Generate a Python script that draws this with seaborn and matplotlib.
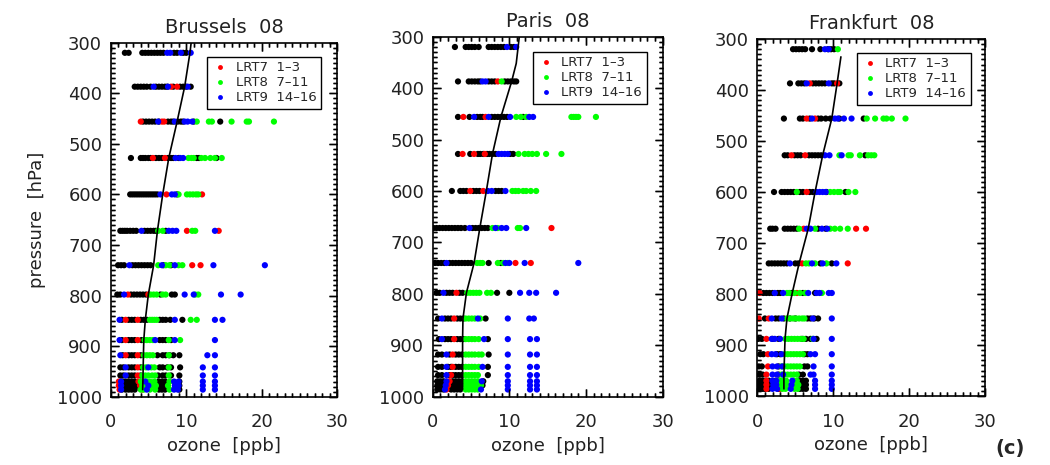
import numpy as np
import pandas as pd
import matplotlib
matplotlib.use("Agg")
import matplotlib.pyplot as plt
from matplotlib.lines import Line2D
from matplotlib.ticker import MultipleLocator
import seaborn as sns

# pressure levels of the soundings [hPa]
levels = [320, 387, 456, 528, 600, 672, 740, 798, 848, 888, 918, 942, 958, 970, 978, 986]

# ozone [ppb] per level
bru_black = [[1.9, 2.4, 4.2, 4.6, 5.0, 5.4, 5.8, 6.2, 6.6, 7.0, 8.4, 8.8, 9.6, 10.0],
             [3.2, 3.6, 4.0, 4.4, 4.8, 5.3, 6.0, 6.4, 6.8, 7.2, 7.5, 8.3, 9.2, 9.6, 10.0, 10.6],
             [4.3, 4.7, 5.1, 5.5, 5.9, 6.4, 7.6, 8.0, 8.3, 8.9, 9.3, 9.6, 11.0, 14.5],
             [2.7, 4.0, 4.3, 4.6, 5.0, 5.3, 6.0, 6.4, 6.8, 7.6, 8.0, 8.3, 9.0, 11.4, 11.7, 14.0],
             [2.6, 2.9, 3.2, 3.5, 3.8, 4.1, 4.4, 4.7, 5.0, 5.3, 5.6, 5.9, 6.2, 8.8],
             [1.3, 1.6, 1.9, 2.2, 2.6, 3.0, 3.4, 4.5, 4.9, 5.3, 5.7, 6.0, 7.3],
             [1.0, 1.4, 1.8, 2.9, 3.3, 3.7, 4.1, 4.5, 4.9, 5.3, 7.0, 8.0],
             [0.9, 1.3, 2.7, 3.1, 3.5, 3.9, 4.3, 4.7, 6.6, 8.1, 8.5],
             [1.5, 2.4, 2.8, 3.2, 4.0, 4.4, 4.8, 6.5, 6.9, 7.3, 7.9, 9.5],
             [1.5, 2.4, 2.8, 3.2, 4.1, 6.5, 6.9, 7.3, 8.0],
             [1.6, 2.4, 2.8, 3.2, 4.0, 6.2, 6.9, 7.3, 7.8, 8.3, 9.1],
             [1.3, 1.7, 2.4, 2.8, 3.2, 4.0, 6.5, 6.9, 7.5, 8.0, 9.2],
             [1.3, 1.7, 2.4, 2.8, 3.2, 4.0, 6.3, 6.9, 7.3, 8.0, 9.1],
             [1.5, 2.0, 2.4, 2.8, 3.2, 6.4, 6.8, 7.2, 9.1],
             [1.6, 2.0, 2.4, 2.8, 3.2, 3.5, 6.4, 6.8, 7.2, 9.1],
             [1.5, 2.0, 2.4, 2.8, 3.2, 6.4, 6.8, 7.2, 9.1]]
bru_red = [[], [8.0, 8.8], [4.0, 6.8, 7.1], [5.6, 7.2], [7.4, 12.1], [10.1, 14.3], [10.8, 11.9],
           [2.3, 5.0], [2.0, 3.6], [2.0, 3.6], [2.0, 3.6], [3.6], [3.6], [1.1, 3.7], [1.1, 3.9], [1.2, 4.2]]
bru_green = [[], [], [11.4, 13.0, 13.4, 16.0, 18.0, 18.3, 21.6],
             [10.3, 10.7, 11.0, 12.0, 12.5, 13.2, 13.8, 14.7],
             [9.0, 10.1, 10.5, 10.9, 11.3, 11.6], [6.3, 6.9, 10.8, 11.2], [6.3, 7.3, 7.8, 9.0, 9.5],
             [5.3, 5.7, 6.1, 6.9, 7.3, 11.2, 11.6], [5.2, 5.5, 5.8, 6.1, 10.6, 11.4],
             [4.5, 4.8, 5.2, 5.6, 7.7, 9.2], [4.4, 4.8, 5.2, 5.6, 7.7], [4.3, 4.7, 5.4, 5.8, 7.7],
             [4.2, 4.6, 5.0, 5.5, 5.9, 7.7], [4.0, 4.4, 4.8, 5.2, 5.8, 7.8],
             [4.2, 4.6, 5.6, 6.0, 7.6], [4.0, 4.4, 5.2, 5.9, 7.8]]
bru_blue = [[7.5, 7.9, 9.3, 10.6], [5.7, 7.6, 10.2], [6.3, 8.5, 9.8, 10.2, 10.8], [8.6, 9.2, 9.6],
            [6.6, 8.1, 8.5], [4.1, 7.7, 8.2, 8.7, 13.8], [2.5, 6.8, 8.5, 13.6, 20.4],
            [1.8, 9.8, 11.0, 14.6, 17.2], [1.2, 8.5, 13.8, 14.8], [1.2, 5.9, 8.5, 13.8],
            [1.3, 12.8, 13.8], [2.0, 5.0, 12.2, 13.8], [2.0, 12.2, 13.8],
            [1.4, 4.6, 8.4, 9.0, 12.2, 13.8], [1.4, 5.0, 8.5, 9.0, 12.2, 13.8],
            [1.4, 4.8, 8.4, 8.9, 12.2, 13.8]]

par_black = [[2.9, 4.3, 4.7, 5.1, 5.5, 6.0, 7.3, 7.7, 8.1, 8.5, 8.9, 9.3, 10.2, 10.6],
             [3.3, 4.7, 5.1, 5.5, 5.9, 6.2, 7.3, 7.7, 8.1, 9.4, 9.8, 10.2, 10.6, 10.9],
             [3.3, 4.8, 5.8, 6.2, 6.5, 7.7, 8.1, 8.5, 8.9, 9.3, 9.7, 11.8],
             [3.3, 4.9, 5.9, 6.2, 6.6, 7.1, 7.4, 7.8, 8.2, 10.1, 10.5],
             [2.5, 3.6, 4.0, 4.4, 5.3, 5.7, 6.1, 8.2, 8.6, 9.0],
             [0.1, 0.5, 0.9, 1.3, 1.7, 2.1, 2.5, 2.9, 3.3, 3.7, 4.2, 5.2, 5.6, 6.0, 6.4, 6.8, 7.2],
             [0.3, 0.7, 1.1, 1.5, 2.2, 2.6, 3.0, 3.4, 3.8, 4.2, 4.6, 5.0, 7.3, 8.9],
             [0.5, 0.9, 1.8, 2.2, 2.6, 3.5, 3.9, 8.4, 10.0],
             [0.7, 1.6, 2.0, 2.4, 3.2, 3.6, 4.0, 6.9],
             [0.8, 1.6, 2.0, 2.4, 3.2, 3.6, 4.0, 7.2],
             [0.7, 1.2, 2.2, 3.0, 3.4, 3.8, 7.3],
             [0.7, 1.2, 2.0, 2.4, 3.0, 3.4, 3.8, 7.2],
             [0.7, 1.2, 2.2, 2.6, 3.0, 3.4, 3.8, 7.2],
             [0.6, 1.0, 1.4, 2.6, 3.0, 3.4, 3.8, 6.6],
             [0.6, 1.0, 1.4, 2.4, 2.8, 3.2, 3.6, 6.5],
             [0.6, 1.0, 1.4, 2.4, 2.8, 3.2, 3.6]]
par_red = [[], [8.5], [4.0, 6.9], [3.9, 5.4, 6.8], [4.9, 6.6], [15.5], [10.8, 12.8], [3.1],
           [2.8], [2.8], [2.6], [2.6], [2.4], [2.2], [2.0], [1.8]]
par_green = [[], [9.0], [10.9, 11.5, 12.2, 18.1, 18.4, 18.7, 19.0, 21.3],
             [11.2, 12.0, 12.5, 13.0, 13.6, 14.8, 16.8],
             [10.4, 10.8, 11.2, 11.8, 12.2, 12.8, 13.5], [7.8, 8.5, 11.1, 11.4],
             [5.8, 6.2, 6.5, 8.5, 9.2, 9.8], [4.5, 4.9, 5.3, 5.7, 6.1, 7.1, 7.6],
             [4.3, 4.7, 5.1, 5.5, 6.2], [4.3, 4.7, 5.1, 5.5, 6.0], [4.3, 4.7, 5.1, 5.5, 6.0, 6.4],
             [4.3, 4.7, 5.1, 5.5, 6.0], [4.3, 4.7, 5.1, 5.5, 5.9], [4.3, 4.7, 5.1, 5.5, 5.9],
             [4.3, 4.7, 5.1, 5.5, 5.9, 6.3], [4.3, 4.7, 5.1, 5.5, 5.9]]
par_blue = [[9.7, 10.9], [6.5, 6.9], [5.4, 7.3, 10.1, 12.6, 13.1], [8.6, 9.0, 9.4, 9.8],
            [7.2, 7.7, 9.5], [4.8, 8.2, 9.0, 9.6, 12.2], [1.8, 9.5, 10.0, 12.0, 19.0],
            [1.4, 11.4, 12.6, 13.5, 16.1], [1.2, 5.9, 9.8, 12.6, 13.2], [1.2, 6.7, 9.8, 12.7, 13.6],
            [1.8, 9.8, 12.7, 13.6], [1.8, 6.5, 9.8, 12.7, 13.6], [1.8, 9.8, 12.7, 13.6],
            [1.8, 6.4, 9.8, 12.7, 13.6], [1.7, 9.8, 12.7, 13.6], [1.6, 6.3, 9.8, 12.7, 13.6]]

fra_black = [[4.7, 5.1, 5.5, 5.9, 6.3, 7.2, 8.3, 9.3, 9.7, 10.1],
             [4.3, 5.4, 5.8, 6.2, 7.3, 7.7, 8.1, 8.5, 8.9, 9.8, 10.1, 10.8],
             [3.5, 5.6, 6.0, 6.9, 8.0, 8.4, 9.0, 9.6, 10.8, 14.0],
             [3.6, 4.0, 4.9, 5.3, 5.7, 6.8, 7.2, 7.6, 8.0, 8.4, 14.2],
             [2.2, 3.2, 3.6, 4.0, 4.4, 4.8, 5.6, 6.0, 6.9, 7.3, 9.1, 11.6],
             [1.7, 2.0, 2.4, 3.6, 4.0, 4.4, 4.8, 5.2, 8.0, 9.0],
             [1.5, 1.9, 2.3, 2.7, 3.1, 3.5, 3.9, 5.0, 5.4, 8.3, 9.8],
             [0.8, 1.2, 1.6, 2.0, 2.7, 3.0, 4.5, 6.0, 7.6],
             [1.0, 2.4, 2.8, 3.5, 4.3, 5.0, 6.6, 7.0, 7.5, 8.0],
             [0.1, 0.6, 2.0, 2.8, 5.9, 6.4, 7.0, 7.8],
             [0.4, 0.8, 2.6, 3.0, 6.2, 6.6],
             [0.2, 0.6, 2.8, 6.2, 6.6],
             [0.3, 0.7, 2.8, 5.5, 6.0],
             [0.3, 0.7, 1.0, 1.5, 2.4, 5.6, 6.0, 6.4],
             [0.3, 0.7, 1.0, 1.5, 2.8, 5.6, 6.0, 6.4],
             [0.3, 0.7, 1.0, 1.5, 2.8, 5.6, 6.0, 6.4]]
fra_red = [[], [6.9, 10.5], [6.5, 7.6], [4.5, 6.3], [6.5], [6.1, 13.0, 14.3], [5.9, 11.9],
           [0.3, 5.2], [0.2, 1.5], [1.2], [1.4], [1.4], [1.2], [1.2], [1.2], [1.2, 3.0]]
fra_green = [[10.6], [], [14.4, 15.5, 16.6, 17.0, 17.7, 19.5],
             [10.8, 12.0, 12.3, 13.5, 14.6, 15.0, 15.4],
             [5.2, 9.6, 10.1, 10.6, 10.9, 12.0, 12.9], [5.5, 7.6, 9.6, 10.2, 10.9, 11.9],
             [6.4, 6.8, 7.6, 9.1], [3.9, 4.2, 4.9, 5.6, 6.3, 8.5],
             [3.9, 4.3, 4.7, 5.1, 5.5, 5.9, 6.2], [3.7, 4.1, 4.5, 4.9, 5.3, 5.7, 6.1, 7.3],
             [3.6, 4.0, 4.4, 4.8, 5.2, 5.6, 6.0], [3.2, 3.6, 4.0, 4.4, 4.8, 5.2, 5.6],
             [3.2, 3.6, 4.0, 4.4, 4.8, 5.2], [3.0, 3.4, 3.8, 4.8, 5.2],
             [3.1, 3.5, 3.9, 5.0, 5.4], [3.3, 3.7, 4.9, 5.3]]
fra_blue = [[8.9, 9.4], [6.5, 9.4], [7.2, 10.2, 10.6, 11.4, 12.4], [8.9, 9.5, 11.1],
            [7.8, 8.2, 8.6, 9.0], [6.5, 7.0, 8.5, 9.2], [4.3, 7.2, 8.6, 10.4],
            [2.3, 3.4, 6.7, 7.8, 8.2, 9.4, 9.8], [1.9, 3.2, 7.3, 9.8], [1.9, 2.3, 3.0, 7.4, 9.8],
            [1.9, 2.4, 3.2, 7.0, 7.6, 9.8], [2.0, 2.6, 3.3, 7.4, 9.8], [2.0, 2.6, 3.4, 7.0, 7.4, 9.8],
            [2.0, 2.5, 4.6, 7.6, 9.8], [2.1, 2.5, 4.5, 7.6, 9.8], [2.0, 2.6, 4.4, 7.6, 9.8]]

# mean profiles (black line)
bru_line_p = [295, 320, 387, 456, 528, 600, 672, 740, 798, 848, 888, 918, 958, 986]
bru_line_o = [10.7, 10.5, 9.8, 8.8, 7.7, 6.9, 6.2, 5.7, 5.0, 4.6, 4.4, 4.35, 4.3, 4.25]
par_line_p = [300, 352, 387, 456, 528, 600, 672, 740, 798, 848, 888, 958, 986]
par_line_o = [11.3, 10.9, 10.3, 8.9, 7.8, 7.0, 6.15, 5.4, 4.4, 3.95, 3.9, 3.9, 3.9]
fra_line_p = [335, 387, 456, 528, 600, 672, 740, 798, 848, 888, 958, 986]
fra_line_o = [11.0, 10.5, 9.8, 8.6, 7.6, 6.7, 5.5, 4.6, 3.9, 3.65, 3.5, 3.5]

x_major = [0, 10, 20, 30]
y_major = list(range(300, 1001, 100))

groups = ["LRT0", "LRT7", "LRT8", "LRT9"]
palette = {"LRT0": "#000000", "LRT7": "#ff0000", "LRT8": "#00ff00", "LRT9": "#0000ff"}
legend_labels = ["LRT7  1\u20133", "LRT8  7\u201311", "LRT9  14\u201316"]

cities = [
    ("Brussels  08", [bru_black, bru_red, bru_green, bru_blue], bru_line_p, bru_line_o,
     [110.5, 396.7, 227.0, 354.0], (0.927, 0.96)),
    ("Paris  08", [par_black, par_red, par_green, par_blue], par_line_p, par_line_o,
     [432.7, 396.7, 229.9, 360.0], (0.931, 0.958)),
    ("Frankfurt  08", [fra_black, fra_red, fra_green, fra_blue], fra_line_p, fra_line_o,
     [757.3, 396.0, 228.0, 357.0], (0.936, 0.962)),
]

sns.set_style("white")
plt.rcParams["font.family"] = ["DejaVu Sans"]

W, H = 1050, 465
fig = plt.figure(figsize=(W / 100, H / 100), dpi=100)


def inner_ticks(ax, w_px, h_px):
    # IDL-style ticks pointing inwards on all four sides
    xt = ax.get_xaxis_transform()
    yt = ax.get_yaxis_transform()
    x_minor = [v for v in range(0, 31) if v not in x_major]
    y_minor = [v for v in range(300, 1001, 10) if v not in y_major]
    for vals, ln in [(x_major, 8), (x_minor, 4)]:
        f = ln / h_px
        ax.vlines(vals, 0, f, transform=xt, colors="black", linewidth=1.0, clip_on=False, zorder=5)
        ax.vlines(vals, 1 - f, 1, transform=xt, colors="black", linewidth=1.0, clip_on=False, zorder=5)
    for vals, ln in [(y_major, 8), (y_minor, 4)]:
        f = ln / w_px
        ax.hlines(vals, 0, f, transform=yt, colors="black", linewidth=1.0, clip_on=False, zorder=5)
        ax.hlines(vals, 1 - f, 1, transform=yt, colors="black", linewidth=1.0, clip_on=False, zorder=5)


for i, (title, series, lp, lo, box, leg_anchor) in enumerate(cities):
    left, bottom, width, height = box
    ax = fig.add_axes([left / W, (H - bottom) / H, width / W, height / H])

    rows = []
    for g, table in zip(groups, series):
        for p, vals in zip(levels, table):
            for v in vals:
                rows.append((g, p, v))
    df = pd.DataFrame(rows, columns=["group", "pressure", "ozone"])

    sns.scatterplot(data=df, x="ozone", y="pressure", hue="group", hue_order=groups,
                    palette=palette, s=20, linewidth=0, legend=False, ax=ax, zorder=2)
    sns.lineplot(x=lo, y=lp, sort=False, estimator=None, color="black", linewidth=1.2, ax=ax)

    ax.set_xlim(0, 30)
    ax.set_ylim(1000, 300)
    ax.set_xticks(x_major)
    ax.set_yticks(y_major)
    ax.xaxis.set_minor_locator(MultipleLocator(1))
    ax.yaxis.set_minor_locator(MultipleLocator(10))
    ax.tick_params(which="both", direction="in", bottom=True, left=True, top=True, right=True,
                   width=1.0, color="black")
    ax.tick_params(which="major", length=6)
    ax.tick_params(which="minor", length=3)
    ax.tick_params(axis="x", which="major", labelsize=13, pad=12, labelcolor="#222222")
    ax.tick_params(axis="y", which="major", labelsize=13, pad=6, labelcolor="#222222")
    inner_ticks(ax, width, height)
    ax.set_xlim(0, 30)
    ax.set_ylim(1000, 300)

    for sp in ax.spines.values():
        sp.set_linewidth(1.2)
        sp.set_color("black")
    ax.set_xlabel("ozone  [ppb]", fontsize=13, color="#222222", labelpad=4)
    ax.set_ylabel("pressure  [hPa]" if i == 0 else "", fontsize=13, color="#222222", labelpad=8)
    ax.set_title(title, fontsize=14, color="#222222", pad=7)

    handles = [Line2D([], [], marker="o", linestyle="none", markersize=3.5,
                      markerfacecolor=palette[g], markeredgewidth=0) for g in groups[1:]]
    leg = ax.legend(handles, legend_labels, loc="upper right", bbox_to_anchor=leg_anchor,
                    borderaxespad=0, fontsize=9.5, frameon=True, fancybox=False,
                    framealpha=1, edgecolor="black", handlelength=1.2, handletextpad=0.6,
                    labelspacing=0.15, borderpad=0.35)
    leg.get_frame().set_linewidth(1.0)
    leg.set_zorder(6)

fig.text(1010 / W, 1 - 448 / H, "(c)", fontsize=14, fontweight="bold", ha="center", va="center")

fig.savefig("out.png", dpi=100)
